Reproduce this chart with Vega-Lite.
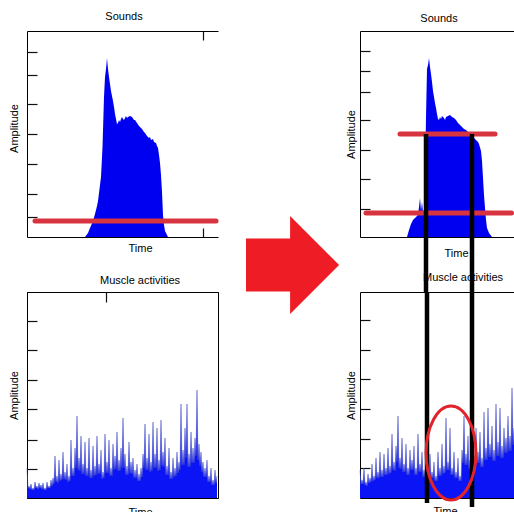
{
  "$schema": "https://vega.github.io/schema/vega-lite/v6.json",
  "padding": {"left": 7, "top": 11, "right": 0, "bottom": 0},
  "background": "white",
  "bounds": "flush",
  "columns": 3,
  "spacing": {"row": 55, "column": 0},
  "config": {
    "view": {"stroke": null},
    "font": "Liberation Sans",
    "axis": {"labels": false, "grid": false, "domainColor": "#000000", "domainWidth": 1, "tickColor": "#111111", "tickWidth": 1.2, "titleFont": "Liberation Sans", "titleFontSize": 11, "titleFontWeight": "normal", "titleColor": "#000000"},
    "title": {"font": "Liberation Sans", "fontSize": 11, "fontWeight": "normal", "color": "#000000", "offset": 8, "baseline": "alphabetic", "frame": "group"}
  },
  "concat": [
    {
      "width": 191, "height": 206,
      "title": {"text": "Sounds", "anchor": "middle", "dx": 1.5},
      "resolve": {"axis": {"x": "independent"}},
      "encoding": {
        "y": {"field": "amp", "type": "quantitative", "scale": {"domain": [0, 206], "nice": false}, "axis": {"orient": "left", "title": "Amplitude", "values": [185, 162, 133, 103, 73, 43, 20], "tickSize": -10, "titlePadding": 7, "titleY": 97}}
      },
      "layer": [
        {
          "data": {"values": [{"t":58,"amp":0},{"t":61,"amp":4},{"t":63,"amp":9},{"t":66,"amp":16},{"t":68,"amp":23},{"t":70,"amp":31},{"t":71,"amp":36},{"t":72,"amp":44},{"t":73,"amp":52},{"t":74,"amp":60},{"t":75.5,"amp":90},{"t":77,"amp":140},{"t":78,"amp":160},{"t":79,"amp":168},{"t":80,"amp":179},{"t":81,"amp":168},{"t":82,"amp":160},{"t":83,"amp":153},{"t":84,"amp":146},{"t":86,"amp":136},{"t":87,"amp":130},{"t":88,"amp":123},{"t":89,"amp":118},{"t":90,"amp":113},{"t":91,"amp":114},{"t":92,"amp":117},{"t":93,"amp":115},{"t":94,"amp":118},{"t":95,"amp":120},{"t":96,"amp":118},{"t":97,"amp":117},{"t":98,"amp":119},{"t":99,"amp":121},{"t":100,"amp":119},{"t":101,"amp":120},{"t":103,"amp":121},{"t":105,"amp":120},{"t":107,"amp":117},{"t":108,"amp":117},{"t":110,"amp":114},{"t":112,"amp":111},{"t":113,"amp":110},{"t":115,"amp":108},{"t":117,"amp":105},{"t":118,"amp":104},{"t":120,"amp":101},{"t":122,"amp":99},{"t":123,"amp":100},{"t":124,"amp":97},{"t":126,"amp":98},{"t":127,"amp":95},{"t":129,"amp":94},{"t":130,"amp":91},{"t":131,"amp":89},{"t":132,"amp":82},{"t":133,"amp":74},{"t":134,"amp":62},{"t":135,"amp":45},{"t":136,"amp":22},{"t":137,"amp":12},{"t":138,"amp":6},{"t":140,"amp":2},{"t":141,"amp":0}]},
          "mark": {"type": "area", "color": "#0000f0", "opacity": 1},
          "encoding": {
            "x": {"field": "t", "type": "quantitative", "scale": {"domain": [0, 191], "nice": false, "zero": false}, "axis": {"orient": "bottom", "title": "Time", "values": [176], "tickSize": -9, "titlePadding": 5, "titleX": 113}}
          }
        },
        {
          "data": {"values": [{"t": 8, "t2": 189, "amp": 16}]},
          "mark": {"type": "rule", "color": "#d8343f", "strokeWidth": 5, "strokeCap": "round"},
          "encoding": {
            "x": {"field": "t", "type": "quantitative", "axis": {"orient": "top", "title": null, "values": [176], "tickSize": -9}},
            "x2": {"field": "t2"}
          }
        }
      ]
    },
    {
      "width": 142, "height": 206,
      "data": {"values": [{"x": 0.525, "y": -0.136}]},
      "mark": {"type": "point", "shape": "M-0.95,-0.54L-0.05,-0.54L-0.05,-1L0.95,0L-0.05,1L-0.05,0.54L-0.95,0.54Z", "size": 9604, "filled": true, "color": "#ee1c25", "opacity": 1, "strokeWidth": 0},
      "encoding": {
        "x": {"field": "x", "type": "quantitative", "scale": {"domain": [0, 1], "nice": false}, "axis": null},
        "y": {"field": "y", "type": "quantitative", "scale": {"domain": [0, 1], "nice": false}, "axis": null}
      }
    },
    {
      "width": 154, "height": 206,
      "title": {"text": "Sounds", "anchor": "middle", "dx": 2, "offset": 7},
      "resolve": {"axis": {"x": "independent"}},
      "encoding": {
        "y": {"field": "amp", "type": "quantitative", "scale": {"domain": [0, 206], "nice": false}, "axis": {"orient": "left", "title": "Amplitude", "values": [186, 166, 145, 117, 87, 58, 28], "tickSize": -10, "titlePadding": 3}}
      },
      "layer": [
        {
          "data": {"values": [{"t":47,"amp":0},{"t":49,"amp":7},{"t":51,"amp":13},{"t":53,"amp":17},{"t":55,"amp":19},{"t":57,"amp":21},{"t":58,"amp":22},{"t":59,"amp":30},{"t":60,"amp":39},{"t":61,"amp":26},{"t":62,"amp":35},{"t":63,"amp":25},{"t":64,"amp":27},{"t":65,"amp":60},{"t":66,"amp":120},{"t":67,"amp":168},{"t":68,"amp":172},{"t":69,"amp":179},{"t":70,"amp":170},{"t":71,"amp":163},{"t":72,"amp":155},{"t":73,"amp":146},{"t":74,"amp":140},{"t":75,"amp":134},{"t":76,"amp":129},{"t":77,"amp":123},{"t":78,"amp":118},{"t":79,"amp":117},{"t":80,"amp":120},{"t":81,"amp":118},{"t":82,"amp":121},{"t":84,"amp":119},{"t":85,"amp":117},{"t":86,"amp":120},{"t":88,"amp":121},{"t":90,"amp":122},{"t":92,"amp":120},{"t":94,"amp":119},{"t":96,"amp":117},{"t":98,"amp":114},{"t":100,"amp":112},{"t":102,"amp":110},{"t":104,"amp":108},{"t":106,"amp":107},{"t":108,"amp":105},{"t":110,"amp":103},{"t":112,"amp":102},{"t":114,"amp":99},{"t":116,"amp":97},{"t":118,"amp":95},{"t":119,"amp":93},{"t":121,"amp":86},{"t":122,"amp":76},{"t":123,"amp":59},{"t":124,"amp":42},{"t":125,"amp":29},{"t":126,"amp":17},{"t":127,"amp":9},{"t":129,"amp":4},{"t":132,"amp":0}]},
          "mark": {"type": "area", "color": "#0000f0", "opacity": 1},
          "encoding": {
            "x": {"field": "t", "type": "quantitative", "scale": {"domain": [0, 154], "nice": false, "zero": false}, "axis": {"orient": "bottom", "title": "Time", "ticks": false, "titlePadding": 10, "titleX": 96}}
          }
        },
        {
          "data": {"values": [{"t": 40, "t2": 135, "amp": 103}, {"t": 6, "t2": 151.5, "amp": 24}]},
          "mark": {"type": "rule", "color": "#d8343f", "strokeWidth": 5, "strokeCap": "round"},
          "encoding": {
            "x": {"field": "t", "type": "quantitative", "axis": {"orient": "top", "title": null, "ticks": false}},
            "x2": {"field": "t2"}
          }
        },
        {
          "data": {"values": [{"t": 66, "amp": 103, "amp2": -55}, {"t": 112, "amp": 103, "amp2": -55}]},
          "mark": {"type": "rule", "color": "#000000", "strokeWidth": 4.5},
          "encoding": {
            "x": {"field": "t", "type": "quantitative", "axis": null},
            "y2": {"field": "amp2"}
          }
        }
      ]
    },
    {
      "width": 191, "height": 206,
      "view": {"stroke": "#000000"},
      "title": {"text": "Muscle activities", "anchor": "middle", "dx": 17.5, "offset": 5},
      "data": {"values": [{"t":0,"amp":30},{"t":1,"amp":10},{"t":2,"amp":12},{"t":3,"amp":9},{"t":4,"amp":14},{"t":5,"amp":8},{"t":6,"amp":10},{"t":7,"amp":8},{"t":8,"amp":16},{"t":9,"amp":10},{"t":10,"amp":12},{"t":11,"amp":9},{"t":12,"amp":15},{"t":13,"amp":10},{"t":14,"amp":13},{"t":15,"amp":9},{"t":16,"amp":15},{"t":17,"amp":8},{"t":18,"amp":10},{"t":19,"amp":8},{"t":20,"amp":16},{"t":21,"amp":10},{"t":22,"amp":12},{"t":23,"amp":10},{"t":24,"amp":18},{"t":25,"amp":12},{"t":26,"amp":20},{"t":27,"amp":14},{"t":28,"amp":42},{"t":29,"amp":16},{"t":30,"amp":22},{"t":31,"amp":15},{"t":32,"amp":38},{"t":33,"amp":17},{"t":34,"amp":24},{"t":35,"amp":18},{"t":36,"amp":46},{"t":37,"amp":19},{"t":38,"amp":26},{"t":39,"amp":18},{"t":40,"amp":34},{"t":41,"amp":16},{"t":42,"amp":22},{"t":43,"amp":17},{"t":44,"amp":58},{"t":45,"amp":22},{"t":46,"amp":30},{"t":47,"amp":22},{"t":48,"amp":50},{"t":49,"amp":30},{"t":50,"amp":82},{"t":51,"amp":28},{"t":52,"amp":40},{"t":53,"amp":27},{"t":54,"amp":62},{"t":55,"amp":24},{"t":56,"amp":34},{"t":57,"amp":24},{"t":58,"amp":56},{"t":59,"amp":22},{"t":60,"amp":30},{"t":61,"amp":22},{"t":62,"amp":60},{"t":63,"amp":20},{"t":64,"amp":28},{"t":65,"amp":20},{"t":66,"amp":52},{"t":67,"amp":22},{"t":68,"amp":32},{"t":69,"amp":23},{"t":70,"amp":62},{"t":71,"amp":24},{"t":72,"amp":34},{"t":73,"amp":24},{"t":74,"amp":48},{"t":75,"amp":19},{"t":76,"amp":26},{"t":77,"amp":20},{"t":78,"amp":64},{"t":79,"amp":25},{"t":80,"amp":36},{"t":81,"amp":25},{"t":82,"amp":58},{"t":83,"amp":22},{"t":84,"amp":30},{"t":85,"amp":22},{"t":86,"amp":54},{"t":87,"amp":28},{"t":88,"amp":42},{"t":89,"amp":29},{"t":90,"amp":66},{"t":91,"amp":27},{"t":92,"amp":38},{"t":93,"amp":27},{"t":94,"amp":50},{"t":95,"amp":30},{"t":96,"amp":80},{"t":97,"amp":30},{"t":98,"amp":44},{"t":99,"amp":23},{"t":100,"amp":32},{"t":101,"amp":23},{"t":102,"amp":56},{"t":103,"amp":25},{"t":104,"amp":36},{"t":105,"amp":24},{"t":106,"amp":40},{"t":107,"amp":20},{"t":108,"amp":28},{"t":109,"amp":20},{"t":110,"amp":34},{"t":111,"amp":17},{"t":112,"amp":24},{"t":113,"amp":17},{"t":114,"amp":30},{"t":115,"amp":21},{"t":116,"amp":44},{"t":117,"amp":30},{"t":118,"amp":74},{"t":119,"amp":28},{"t":120,"amp":40},{"t":121,"amp":28},{"t":122,"amp":64},{"t":123,"amp":26},{"t":124,"amp":36},{"t":125,"amp":27},{"t":126,"amp":76},{"t":127,"amp":30},{"t":128,"amp":44},{"t":129,"amp":30},{"t":130,"amp":70},{"t":131,"amp":27},{"t":132,"amp":38},{"t":133,"amp":28},{"t":134,"amp":78},{"t":135,"amp":32},{"t":136,"amp":46},{"t":137,"amp":31},{"t":138,"amp":60},{"t":139,"amp":23},{"t":140,"amp":32},{"t":141,"amp":23},{"t":142,"amp":50},{"t":143,"amp":19},{"t":144,"amp":26},{"t":145,"amp":19},{"t":146,"amp":40},{"t":147,"amp":21},{"t":148,"amp":30},{"t":149,"amp":22},{"t":150,"amp":46},{"t":151,"amp":25},{"t":152,"amp":36},{"t":153,"amp":28},{"t":154,"amp":94},{"t":155,"amp":33},{"t":156,"amp":48},{"t":157,"amp":33},{"t":158,"amp":70},{"t":159,"amp":40},{"t":160,"amp":94},{"t":161,"amp":31},{"t":162,"amp":44},{"t":163,"amp":31},{"t":164,"amp":66},{"t":165,"amp":35},{"t":166,"amp":50},{"t":167,"amp":35},{"t":168,"amp":60},{"t":169,"amp":42},{"t":170,"amp":108},{"t":171,"amp":38},{"t":172,"amp":54},{"t":173,"amp":32},{"t":174,"amp":46},{"t":175,"amp":26},{"t":176,"amp":36},{"t":177,"amp":21},{"t":178,"amp":30},{"t":179,"amp":21},{"t":180,"amp":38},{"t":181,"amp":16},{"t":182,"amp":22},{"t":183,"amp":16},{"t":184,"amp":30},{"t":185,"amp":13},{"t":186,"amp":18},{"t":187,"amp":13},{"t":188,"amp":28},{"t":189,"amp":15},{"t":190,"amp":22}]},
      "resolve": {"axis": {"x": "independent"}},
      "encoding": {
        "y": {"field": "amp", "type": "quantitative", "scale": {"domain": [0, 206], "nice": false}, "axis": {"orient": "left", "title": "Amplitude", "values": [177, 148, 118, 89, 58, 29], "tickSize": -10, "titlePadding": 7}}
      },
      "layer": [
        {
          "mark": {"type": "area", "color": "#0a14f5", "opacity": 1},
          "encoding": {
            "x": {"field": "t", "type": "quantitative", "scale": {"domain": [0, 191], "nice": false, "zero": false}, "axis": {"orient": "top", "title": null, "values": [79], "tickSize": -10}}
          }
        },
        {
          "mark": {"type": "line", "color": "#4a55c0", "strokeWidth": 0.5},
          "encoding": {
            "x": {"field": "t", "type": "quantitative", "axis": {"orient": "bottom", "title": "Time", "ticks": false, "titlePadding": 8, "titleX": 113}}
          }
        }
      ]
    },
    {
      "width": 142, "height": 206,
      "data": {"values": []},
      "mark": {"type": "text"},
      "encoding": {}
    },
    {
      "width": 154, "height": 206,
      "title": {"text": "Muscle activities", "anchor": "middle", "dx": 26, "offset": 7},
      "resolve": {"axis": {"x": "independent"}},
      "encoding": {
        "y": {"field": "amp", "type": "quantitative", "scale": {"domain": [0, 206], "nice": false}, "axis": {"orient": "left", "title": "Amplitude", "values": [178, 148, 119, 89, 59, 30], "tickSize": -10, "titlePadding": 3}}
      },
      "layer": [
        {
          "data": {"name": "emgR", "values": [{"t":0,"amp":28},{"t":1,"amp":14},{"t":2,"amp":18},{"t":3,"amp":14},{"t":4,"amp":30},{"t":5,"amp":13},{"t":6,"amp":16},{"t":7,"amp":12},{"t":8,"amp":24},{"t":9,"amp":15},{"t":10,"amp":20},{"t":11,"amp":16},{"t":12,"amp":34},{"t":13,"amp":17},{"t":14,"amp":22},{"t":15,"amp":18},{"t":16,"amp":40},{"t":17,"amp":20},{"t":18,"amp":26},{"t":19,"amp":20},{"t":20,"amp":46},{"t":21,"amp":21},{"t":22,"amp":28},{"t":23,"amp":21},{"t":24,"amp":44},{"t":25,"amp":23},{"t":26,"amp":30},{"t":27,"amp":23},{"t":28,"amp":50},{"t":29,"amp":24},{"t":30,"amp":32},{"t":31,"amp":25},{"t":32,"amp":64},{"t":33,"amp":28},{"t":34,"amp":36},{"t":35,"amp":27},{"t":36,"amp":52},{"t":37,"amp":36},{"t":38,"amp":82},{"t":39,"amp":30},{"t":40,"amp":40},{"t":41,"amp":29},{"t":42,"amp":60},{"t":43,"amp":26},{"t":44,"amp":34},{"t":45,"amp":26},{"t":46,"amp":54},{"t":47,"amp":23},{"t":48,"amp":30},{"t":49,"amp":23},{"t":50,"amp":48},{"t":51,"amp":28},{"t":52,"amp":38},{"t":53,"amp":28},{"t":54,"amp":52},{"t":55,"amp":23},{"t":56,"amp":30},{"t":57,"amp":23},{"t":58,"amp":64},{"t":59,"amp":26},{"t":60,"amp":34},{"t":61,"amp":26},{"t":62,"amp":46},{"t":63,"amp":21},{"t":64,"amp":28},{"t":65,"amp":21},{"t":66,"amp":40},{"t":67,"amp":18},{"t":68,"amp":24},{"t":69,"amp":18},{"t":70,"amp":44},{"t":71,"amp":20},{"t":72,"amp":26},{"t":73,"amp":20},{"t":74,"amp":36},{"t":75,"amp":17},{"t":76,"amp":22},{"t":77,"amp":17},{"t":78,"amp":46},{"t":79,"amp":22},{"t":80,"amp":30},{"t":81,"amp":22},{"t":82,"amp":54},{"t":83,"amp":24},{"t":84,"amp":32},{"t":85,"amp":25},{"t":86,"amp":80},{"t":87,"amp":28},{"t":88,"amp":36},{"t":89,"amp":28},{"t":90,"amp":70},{"t":91,"amp":23},{"t":92,"amp":30},{"t":93,"amp":23},{"t":94,"amp":46},{"t":95,"amp":20},{"t":96,"amp":26},{"t":97,"amp":20},{"t":98,"amp":40},{"t":99,"amp":17},{"t":100,"amp":22},{"t":101,"amp":17},{"t":102,"amp":48},{"t":103,"amp":35},{"t":104,"amp":82},{"t":105,"amp":33},{"t":106,"amp":44},{"t":107,"amp":33},{"t":108,"amp":62},{"t":109,"amp":29},{"t":110,"amp":38},{"t":111,"amp":29},{"t":112,"amp":56},{"t":113,"amp":32},{"t":114,"amp":42},{"t":115,"amp":32},{"t":116,"amp":70},{"t":117,"amp":35},{"t":118,"amp":46},{"t":119,"amp":35},{"t":120,"amp":66},{"t":121,"amp":31},{"t":122,"amp":40},{"t":123,"amp":31},{"t":124,"amp":86},{"t":125,"amp":38},{"t":126,"amp":50},{"t":127,"amp":38},{"t":128,"amp":90},{"t":129,"amp":41},{"t":130,"amp":54},{"t":131,"amp":41},{"t":132,"amp":72},{"t":133,"amp":37},{"t":134,"amp":48},{"t":135,"amp":37},{"t":136,"amp":94},{"t":137,"amp":42},{"t":138,"amp":56},{"t":139,"amp":42},{"t":140,"amp":90},{"t":141,"amp":40},{"t":142,"amp":52},{"t":143,"amp":40},{"t":144,"amp":70},{"t":145,"amp":45},{"t":146,"amp":60},{"t":147,"amp":45},{"t":148,"amp":82},{"t":149,"amp":47},{"t":150,"amp":62},{"t":151,"amp":47},{"t":152,"amp":110},{"t":153,"amp":53},{"t":154,"amp":70}]},
          "mark": {"type": "area", "color": "#0a14f5", "opacity": 1},
          "encoding": {
            "x": {"field": "t", "type": "quantitative", "scale": {"domain": [0, 154], "nice": false, "zero": false}, "axis": {"orient": "top", "title": null, "ticks": false}}
          }
        },
        {
          "data": {"name": "emgR"},
          "mark": {"type": "line", "color": "#4a55c0", "strokeWidth": 0.5},
          "encoding": {
            "x": {"field": "t", "type": "quantitative", "axis": {"orient": "bottom", "title": "Time", "ticks": false, "titlePadding": 7, "titleX": 85}}
          }
        },
        {
          "data": {"values": [{"t": 67, "amp": 206, "amp2": -5}, {"t": 112, "amp": 206, "amp2": -9}]},
          "mark": {"type": "rule", "color": "#000000", "strokeWidth": 4.5},
          "encoding": {
            "x": {"field": "t", "type": "quantitative", "axis": null},
            "y2": {"field": "amp2"}
          }
        },
        {
          "data": {"values": [{"t": 91, "amp": 45}]},
          "mark": {"type": "point", "shape": "M0,-1A0.53,1,0,1,1,0,1A0.53,1,0,1,1,0,-1Z", "size": 8836, "filled": false, "color": "#e0242c", "strokeWidth": 3, "opacity": 1},
          "encoding": {
            "x": {"field": "t", "type": "quantitative", "axis": null}
          }
        }
      ]
    }
  ]
}
